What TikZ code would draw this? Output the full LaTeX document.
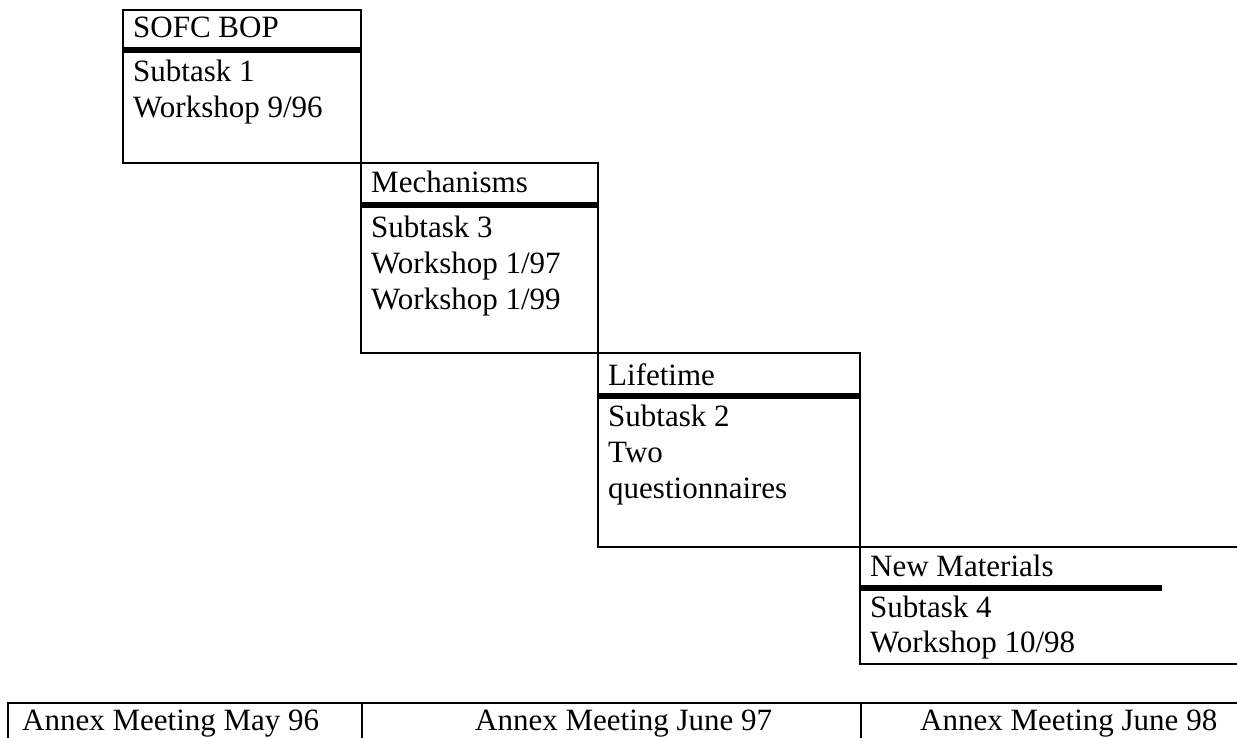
\documentclass[tikz,border=0pt]{standalone}
\usepackage{fontspec}
\setmainfont{Liberation Serif}
\usepackage{tikz}

\tikzset{
  txt/.style={anchor=base west, inner sep=0pt, font=\fontsize{31}{36}\selectfont},
  boxline/.style={line width=2.4pt},
  titlebar/.style={line width=6pt},
}

\begin{document}
\begin{tikzpicture}[x=1pt,y=-1pt]
\useasboundingbox (0,0) rectangle (1237,738);

% SOFC BOP
\draw[boxline] (123,10) rectangle (361,163);
\draw[titlebar] (123,50) -- (361,50);
\draw (133,38)  node (11) [txt] {SOFC BOP};
\draw (133,82)  node (12) [txt] {Subtask 1};
\draw (133,118) node (13) [txt] {Workshop 9/96};

% Mechanisms
\draw[boxline] (361,163) rectangle (598,353);
\draw[titlebar] (361,205) -- (598,205);
\draw (371,193) node (21) [txt] {Mechanisms};
\draw (371,237) node (22) [txt] {Subtask 3};
\draw (371,273) node (23) [txt] {Workshop 1/97};
\draw (371,309) node (24) [txt] {Workshop 1/99};

% Lifetime
\draw[boxline] (598,353) rectangle (860,547);
\draw[titlebar] (598,396) -- (860,396);
\draw (608,385) node (31) [txt] {Lifetime};
\draw (608,426) node (32) [txt] {Subtask 2};
\draw (608,462) node (33) [txt] {Two};
\draw (608,498) node (34) [txt] {questionnaires};

% New Materials
\draw[boxline] (1237,547) -- (860,547) -- (860,664) -- (1237,664);
\draw[titlebar] (860,588) -- (1162,588);
\draw (870,576) node (41) [txt] {New Materials};
\draw (870,617) node (42) [txt] {Subtask 4};
\draw (870,652) node (43) [txt] {Workshop 10/98};

% annex meetings
\draw[boxline] (8,738) -- (8,703) -- (1237,703);
\draw[boxline] (362,703) -- (362,738);
\draw[boxline] (861,703) -- (861,738);
\draw (22,730)  node (51) [txt] {Annex Meeting May 96};
\draw (475,730) node (52) [txt] {Annex Meeting June 97};
\draw (920,730) node (53) [txt] {Annex Meeting June 98};

\end{tikzpicture}
\end{document}
